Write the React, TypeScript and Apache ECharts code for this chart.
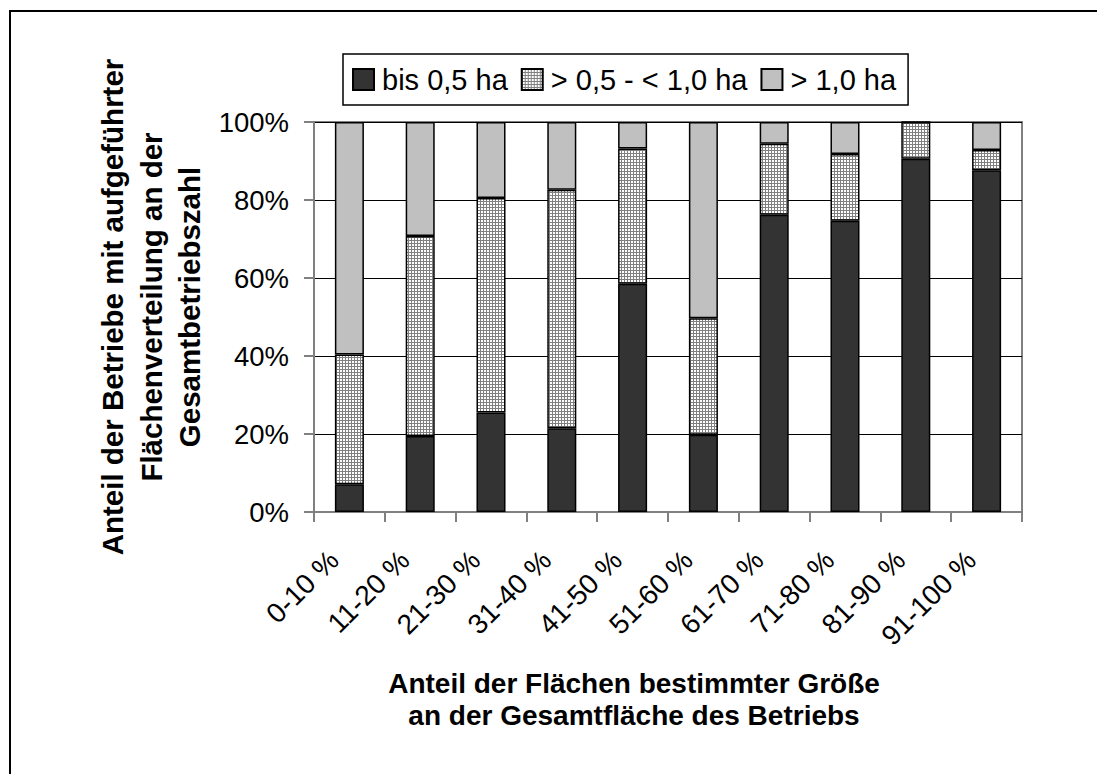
import React, { useEffect, useRef } from "react";
import * as echarts from "echarts";

const categories = ["0-10 %", "11-20 %", "21-30 %", "31-40 %", "41-50 %", "51-60 %", "61-70 %", "71-80 %", "81-90 %", "91-100 %"];
const seriesNames = ["bis 0,5 ha", "> 0,5 - < 1,0 ha", "> 1,0 ha"];
const smallShare = [7.1, 19.5, 25.5, 21.5, 58.5, 19.8, 76.2, 74.7, 90.6, 87.6];
const mediumShare = [33.3, 51.3, 55.0, 61.1, 34.7, 29.9, 18.2, 17.1, 9.4, 5.2];
const largeShare = [59.6, 29.2, 19.5, 17.4, 6.8, 50.3, 5.6, 8.2, 0, 7.2];
const yAxisTitle = "Anteil der Betriebe mit aufgeführter\nFlächenverteilung an der\nGesamtbetriebszahl";
const xAxisTitle = "Anteil der Flächen bestimmter Größe\nan der Gesamtfläche des Betriebs";

const FONT = 'Arial, "Liberation Sans", sans-serif';

function makeHatch() {
  const c = document.createElement("canvas");
  c.width = 3;
  c.height = 3;
  const ctx = c.getContext("2d")!;
  ctx.fillStyle = "#ffffff";
  ctx.fillRect(0, 0, 3, 3);
  ctx.fillStyle = "#808080";
  ctx.fillRect(0, 0, 3, 1);
  ctx.fillRect(0, 0, 1, 3);
  return c;
}

export default function App() {
  const ref = useRef<HTMLDivElement>(null);
  useEffect(() => {
    if (!ref.current) return;
    const chart = echarts.init(ref.current, null, { renderer: "svg" });
    const hatch = makeHatch();
    const border = { borderColor: "#000", borderWidth: 1.5 };
    chart.setOption({
      animation: false,
      backgroundColor: "#fff",
      textStyle: { fontFamily: FONT },
      grid: {
        left: 314,
        right: 75,
        top: 122,
        bottom: 262,
        show: true,
        borderColor: "#808080",
        borderWidth: 2,
        backgroundColor: "transparent",
      },
      legend: {
        left: 343,
        top: 54,
        orient: "horizontal",
        itemWidth: 21,
        itemHeight: 21,
        itemGap: 13,
        padding: [11, 12, 11, 9],
        borderColor: "#000",
        borderWidth: 1.5,
        icon: "rect",
        textStyle: { fontSize: 29, color: "#000", fontFamily: FONT, padding: [0, 0, 0, 3] },
        data: seriesNames,
      },
      xAxis: {
        type: "category",
        data: categories,
        axisLine: { lineStyle: { color: "#808080", width: 2 } },
        axisTick: { show: true, length: 10, lineStyle: { color: "#808080", width: 2 } },
        axisLabel: {
          interval: 0,
          rotate: 45,
          fontSize: 28,
          color: "#000",
          fontFamily: FONT,
          margin: 28,
          padding: [0, 22, 0, 0],
        },
        splitLine: { show: false },
      },
      yAxis: {
        type: "value",
        min: 0,
        max: 100,
        interval: 20,
        axisLine: { show: true, lineStyle: { color: "#808080", width: 2 } },
        axisTick: { show: true, length: 10, lineStyle: { color: "#808080", width: 2 } },
        axisLabel: { formatter: "{value}%", fontSize: 27.5, color: "#000", fontFamily: FONT, margin: 25 },
        splitLine: { show: true, lineStyle: { color: "#000", width: 1 } },
      },
      graphic: [
        {
          type: "rect",
          shape: { x: 10, y: 11, width: 1300, height: 1000 },
          style: { fill: "none", stroke: "#000", lineWidth: 2 },
          silent: true,
          z: -1,
        },
        {
          type: "text",
          x: 151,
          y: 307,
          rotation: Math.PI / 2,
          style: {
            text: yAxisTitle,
            font: `bold 29.5px ${FONT}`,
            fill: "#000",
            textAlign: "center",
            textVerticalAlign: "middle",
            lineHeight: 38.5,
          },
        },
        {
          type: "text",
          x: 634,
          y: 699,
          style: {
            text: xAxisTitle,
            font: `bold 28px ${FONT}`,
            fill: "#000",
            textAlign: "center",
            textVerticalAlign: "middle",
            lineHeight: 32,
          },
        },
      ],
      series: [
        {
          name: seriesNames[0],
          type: "bar",
          stack: "total",
          barWidth: "41%",
          data: smallShare,
          itemStyle: { color: "#333333", ...border },
        },
        {
          name: seriesNames[1],
          type: "bar",
          stack: "total",
          barWidth: "41%",
          data: mediumShare,
          itemStyle: { color: { image: hatch, repeat: "repeat" }, ...border },
        },
        {
          name: seriesNames[2],
          type: "bar",
          stack: "total",
          barWidth: "41%",
          data: largeShare,
          itemStyle: { color: "#c0c0c0", ...border },
        },
      ],
    });
    return () => chart.dispose();
  }, []);
  return (
    <div
      ref={ref}
      style={{ position: "absolute", left: 0, top: 0, width: 1097, height: 774 }}
    />
  );
}
